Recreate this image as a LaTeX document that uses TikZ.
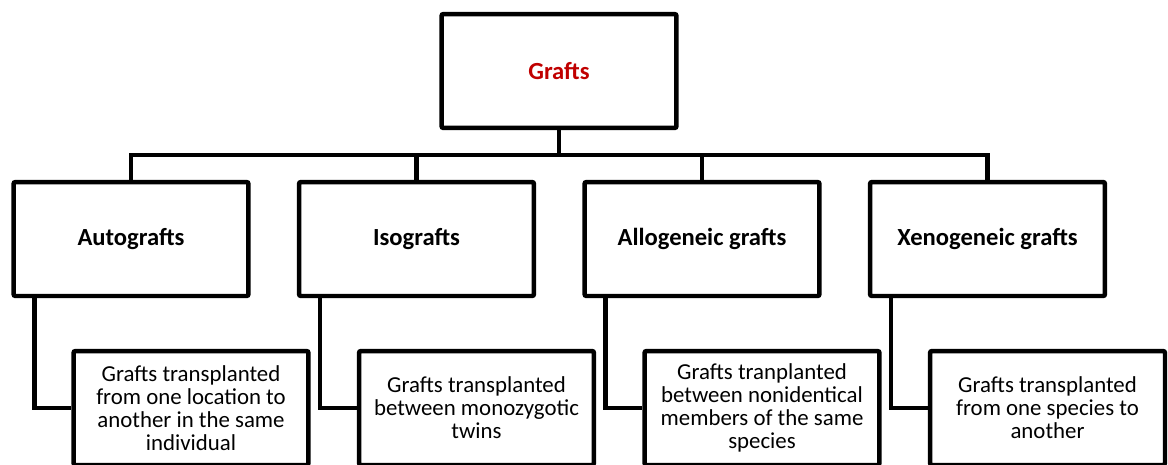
\documentclass[tikz,border=0pt]{standalone}
\usepackage{fontspec}
\setmainfont{Carlito}
\definecolor{graftred}{RGB}{192,0,0}
\begin{document}
\begin{tikzpicture}[x=0.02cm,y=-0.02cm,
  box/.style={draw,line width=0.09cm,rounded corners=0.04cm,minimum width=4.7cm,minimum height=2.28cm,align=center,inner sep=0pt},
  head/.style={box,font=\fontsize{14}{15}\selectfont\bfseries},
  info/.style={box,font=\fontsize{13}{13.1}\selectfont},
  link/.style={line width=0.09cm}]
\useasboundingbox (0,0) rectangle (1168,464);
\clip (0,0) rectangle (1168,464);
\node[head,text=graftred] (root) at (559,71) {Grafts};
\coordinate (bar) at (559,155);
\foreach \i/\lbl/\desc in {1/Autografts/{Grafts transplanted\\from one location to\\another in the same\\individual},
  2/Isografts/{Grafts transplanted\\between monozygotic\\twins},
  3/Allogeneic grafts/{Grafts tranplanted\\between nonidentical\\members of the same\\species},
  4/Xenogeneic grafts/{Grafts transplanted\\from one species to\\another}}
{       \node[head] (cat\i) at ({131+285.5*(\i-1)},239) {\lbl};
        \node[info] (def\i) at ({191+285.5*(\i-1)},408) {\desc};
        \draw[link] (root.south) -- (bar) -| (cat\i.north);
        \draw[link] ([xshift=0.46cm]cat\i.south west) |- (def\i.west);
}
\end{tikzpicture}
\end{document}
